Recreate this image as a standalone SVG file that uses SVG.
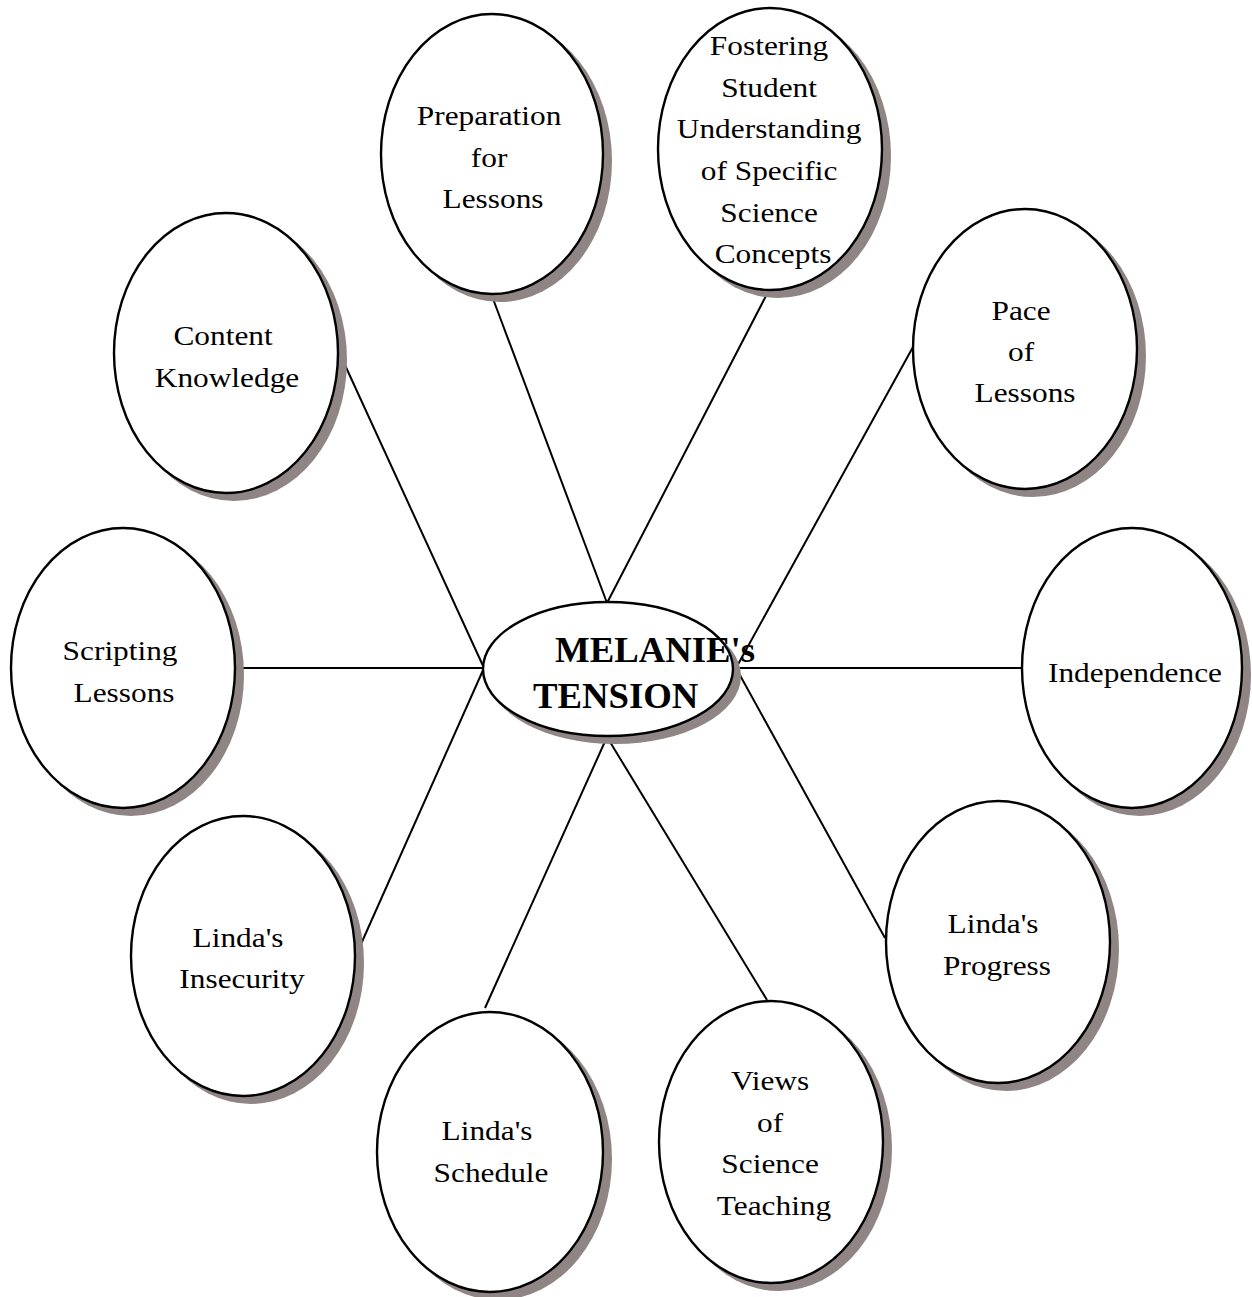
<svg xmlns="http://www.w3.org/2000/svg" width="1252" height="1297" viewBox="0 0 1252 1297">
  <style>
    .shadow { fill: #8f8585; stroke: none; }
    .bubble { fill: #ffffff; stroke: #000000; stroke-width: 2.4; }
    .link { stroke: #000000; stroke-width: 2; fill: none; }
    .label { font-family: "Liberation Serif", "Times New Roman", serif; font-size: 28px; fill: #000000; text-anchor: middle; }
    .hub { font-family: "Liberation Serif", "Times New Roman", serif; font-size: 35px; font-weight: bold; fill: #000000; }
  </style>

  <rect width="1252" height="1297" fill="#ffffff"/>

  <!-- spokes from the central theme to each factor -->
  <g id="connectors">
    <line class="link" x1="492" y1="296" x2="607" y2="603"/>
    <line class="link" x1="768" y1="292" x2="607" y2="603"/>
    <line class="link" x1="339" y1="352" x2="484" y2="668"/>
    <line class="link" x1="236" y1="668" x2="484" y2="668"/>
    <line class="link" x1="357" y1="953" x2="484" y2="668"/>
    <line class="link" x1="485" y1="1008" x2="607" y2="737"/>
    <line class="link" x1="767" y1="1000" x2="607" y2="737"/>
    <line class="link" x1="885" y1="938" x2="736" y2="668"/>
    <line class="link" x1="1022" y1="668" x2="736" y2="668"/>
    <line class="link" x1="913" y1="347" x2="736" y2="668"/>
  </g>

  <g id="preparation">
    <ellipse class="shadow" cx="500" cy="161" rx="112" ry="141"/>
    <ellipse class="bubble" cx="492" cy="154" rx="111" ry="140"/>
    <text class="label" transform="translate(493 0) scale(1.12 1)">
      <tspan x="0" y="125">Preparation</tspan>
      <tspan x="0" y="167">for</tspan>
      <tspan x="0" y="208">Lessons</tspan>
    </text>
  </g>

  <g id="fostering">
    <ellipse class="shadow" cx="778" cy="156" rx="113" ry="142"/>
    <ellipse class="bubble" cx="770" cy="149" rx="112" ry="141"/>
    <text class="label" transform="translate(773 0) scale(1.12 1)">
      <tspan x="0" y="55">Fostering</tspan>
      <tspan x="0" y="97">Student</tspan>
      <tspan x="0" y="138">Understanding</tspan>
      <tspan x="0" y="180">of Specific</tspan>
      <tspan x="0" y="222">Science</tspan>
      <tspan x="0" y="263">Concepts</tspan>
    </text>
  </g>

  <g id="content-knowledge">
    <ellipse class="shadow" cx="234" cy="360" rx="113" ry="141"/>
    <ellipse class="bubble" cx="226" cy="353" rx="112" ry="140"/>
    <text class="label" transform="translate(227 0) scale(1.12 1)">
      <tspan x="0" y="345">Content</tspan>
      <tspan x="0" y="387">Knowledge</tspan>
    </text>
  </g>

  <g id="pace">
    <ellipse class="shadow" cx="1033" cy="356" rx="113" ry="141"/>
    <ellipse class="bubble" cx="1025" cy="349" rx="112" ry="140"/>
    <text class="label" transform="translate(1025 0) scale(1.12 1)">
      <tspan x="0" y="320">Pace</tspan>
      <tspan x="0" y="361">of</tspan>
      <tspan x="0" y="402">Lessons</tspan>
    </text>
  </g>

  <g id="scripting">
    <ellipse class="shadow" cx="131" cy="675" rx="113" ry="141"/>
    <ellipse class="bubble" cx="123" cy="668" rx="112" ry="140"/>
    <text class="label" transform="translate(124 0) scale(1.12 1)">
      <tspan x="0" y="660">Scripting</tspan>
      <tspan x="0" y="702">Lessons</tspan>
    </text>
  </g>

  <g id="independence">
    <ellipse class="shadow" cx="1140" cy="675" rx="111" ry="141"/>
    <ellipse class="bubble" cx="1132" cy="668" rx="110" ry="140"/>
    <text class="label" transform="translate(1135 0) scale(1.12 1)">
      <tspan x="0" y="682">Independence</tspan>
    </text>
  </g>

  <g id="insecurity">
    <ellipse class="shadow" cx="251" cy="963" rx="113" ry="141"/>
    <ellipse class="bubble" cx="243" cy="956" rx="112" ry="140"/>
    <text class="label" transform="translate(242 0) scale(1.12 1)">
      <tspan x="0" y="947">Linda's</tspan>
      <tspan x="0" y="988">Insecurity</tspan>
    </text>
  </g>

  <g id="schedule">
    <ellipse class="shadow" cx="498" cy="1159" rx="114" ry="141"/>
    <ellipse class="bubble" cx="490" cy="1152" rx="113" ry="140"/>
    <text class="label" transform="translate(491 0) scale(1.12 1)">
      <tspan x="0" y="1140">Linda's</tspan>
      <tspan x="0" y="1182">Schedule</tspan>
    </text>
  </g>

  <g id="views">
    <ellipse class="shadow" cx="779" cy="1149" rx="113" ry="142"/>
    <ellipse class="bubble" cx="771" cy="1142" rx="112" ry="141"/>
    <text class="label" transform="translate(774 0) scale(1.12 1)">
      <tspan x="0" y="1090">Views</tspan>
      <tspan x="0" y="1132">of</tspan>
      <tspan x="0" y="1173">Science</tspan>
      <tspan x="0" y="1215">Teaching</tspan>
    </text>
  </g>

  <g id="progress">
    <ellipse class="shadow" cx="1006" cy="949" rx="113" ry="142"/>
    <ellipse class="bubble" cx="998" cy="942" rx="112" ry="141"/>
    <text class="label" transform="translate(997 0) scale(1.12 1)">
      <tspan x="0" y="933">Linda's</tspan>
      <tspan x="0" y="975">Progress</tspan>
    </text>
  </g>

  <g id="melanies-tension">
    <ellipse class="shadow" cx="615" cy="676" rx="126" ry="68"/>
    <ellipse class="bubble" cx="608" cy="669" rx="125" ry="67"/>
    <text class="hub" transform="translate(555 0) scale(1.05 1)" x="0" y="662">MELANIE's</text>
    <text class="hub" transform="translate(533 0) scale(1.05 1)" x="0" y="708">TENSION</text>
  </g>
</svg>
